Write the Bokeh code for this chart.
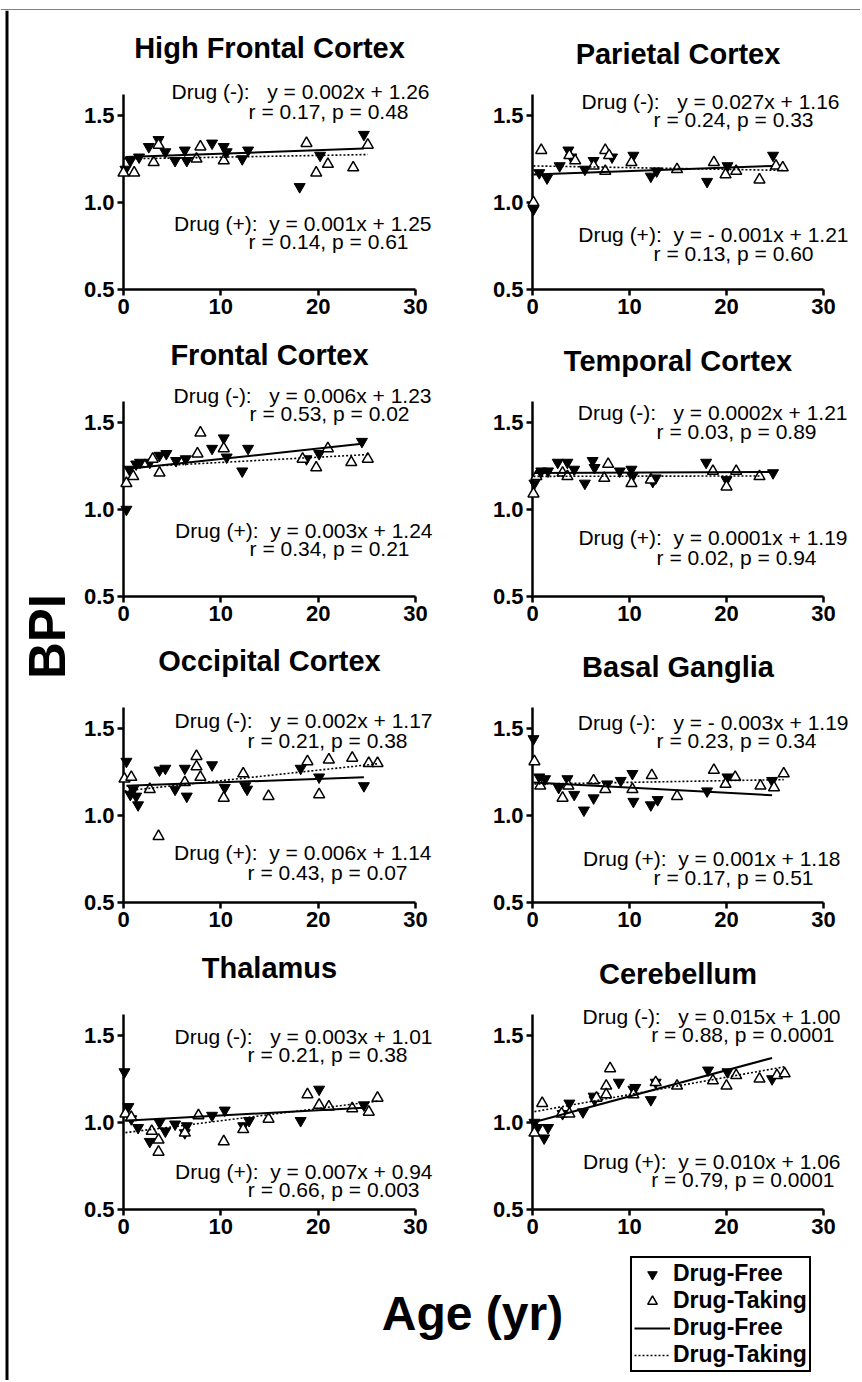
import math
from bokeh.plotting import figure
from bokeh.models import (Range1d, Label, Legend, LegendItem, LinearAxis, FixedTicker,
                          NumeralTickFormatter, Span)
from bokeh.layouts import row, column
from bokeh.embed import file_html
from bokeh.resources import INLINE
from bokeh.core.properties import value

# ---------------- data ----------------
regions = ["High Frontal Cortex", "Parietal Cortex", "Frontal Cortex", "Temporal Cortex",
           "Occipital Cortex", "Basal Ganglia", "Thalamus", "Cerebellum"]

hfc_free_age = [0.2, 0.7, 1.6, 2.6, 3.6, 4.3, 5.3, 6.3, 6.5, 9.1, 10.3, 10.6, 12.2, 12.8, 18.1, 20.2, 24.7]
hfc_free_bpi = [1.19, 1.24, 1.26, 1.32, 1.36, 1.29, 1.24, 1.30, 1.24, 1.34, 1.32, 1.29, 1.25, 1.30, 1.09, 1.27, 1.39]
hfc_taking_age = [0.0, 1.1, 3.1, 3.6, 7.5, 7.9, 10.3, 18.8, 19.8, 21.0, 23.6, 25.1]
hfc_taking_bpi = [1.17, 1.17, 1.23, 1.33, 1.25, 1.32, 1.24, 1.34, 1.17, 1.22, 1.20, 1.33]

par_free_age = [0.1, 0.7, 1.5, 2.8, 3.7, 4.0, 5.4, 6.3, 8.2, 10.4, 12.2, 12.8, 18.0, 20.1, 24.8]
par_free_bpi = [0.96, 1.17, 1.14, 1.21, 1.30, 1.26, 1.19, 1.24, 1.26, 1.27, 1.15, 1.18, 1.12, 1.21, 1.27]
par_taking_age = [0.1, 0.9, 3.8, 4.4, 6.3, 7.5, 7.5, 7.9, 10.2, 14.9, 18.7, 19.9, 21.0, 23.4, 25.1, 25.8]
par_taking_bpi = [1.00, 1.30, 1.27, 1.24, 1.21, 1.18, 1.30, 1.27, 1.23, 1.19, 1.23, 1.16, 1.18, 1.13, 1.21, 1.20]

fro_free_age = [0.3, 0.6, 1.3, 1.7, 2.7, 3.7, 4.4, 5.4, 6.4, 9.1, 10.3, 10.6, 12.2, 12.8, 18.8, 20.1, 24.5]
fro_free_bpi = [1.00, 1.23, 1.26, 1.27, 1.27, 1.31, 1.32, 1.28, 1.29, 1.35, 1.41, 1.30, 1.22, 1.35, 1.29, 1.32, 1.39]
fro_taking_age = [0.3, 1.0, 3.0, 3.7, 7.6, 7.9, 10.3, 18.4, 19.8, 21.0, 23.4, 25.1]
fro_taking_bpi = [1.15, 1.19, 1.29, 1.21, 1.32, 1.44, 1.35, 1.29, 1.24, 1.35, 1.27, 1.29]

tem_free_age = [0.2, 0.9, 1.6, 2.6, 3.6, 4.3, 5.4, 6.2, 6.4, 9.0, 10.2, 10.3, 12.4, 12.7, 17.9, 20.0, 24.8]
tem_free_bpi = [1.15, 1.22, 1.22, 1.27, 1.27, 1.23, 1.15, 1.28, 1.24, 1.22, 1.23, 1.19, 1.16, 1.18, 1.27, 1.17, 1.21]
tem_taking_age = [0.1, 0.4, 3.1, 3.6, 7.4, 7.8, 10.2, 12.2, 18.6, 20.0, 21.0, 23.4]
tem_taking_bpi = [1.09, 1.19, 1.21, 1.19, 1.18, 1.26, 1.15, 1.17, 1.22, 1.13, 1.22, 1.19]

occ_free_age = [0.3, 0.7, 1.0, 1.3, 1.5, 3.7, 4.3, 5.3, 6.3, 6.5, 9.1, 10.4, 12.5, 12.7, 18.2, 20.1, 24.7]
occ_free_bpi = [1.31, 1.12, 1.15, 1.11, 1.06, 1.26, 1.27, 1.15, 1.27, 1.11, 1.29, 1.16, 1.17, 1.15, 1.27, 1.22, 1.17]
occ_taking_age = [0.1, 0.8, 2.7, 3.6, 6.3, 7.5, 7.5, 7.9, 10.3, 12.3, 14.9, 18.9, 20.1, 21.1, 23.5, 25.2, 26.1]
occ_taking_bpi = [1.21, 1.22, 1.15, 0.88, 1.19, 1.34, 1.28, 1.22, 1.10, 1.24, 1.11, 1.31, 1.12, 1.32, 1.33, 1.30, 1.30]

bg_free_age = [0.1, 0.7, 1.3, 2.7, 3.6, 4.3, 5.3, 6.3, 7.7, 9.1, 10.3, 10.4, 12.2, 12.9, 18.0, 20.1, 24.7]
bg_free_bpi = [1.44, 1.22, 1.21, 1.16, 1.21, 1.12, 1.03, 1.10, 1.18, 1.20, 1.24, 1.08, 1.06, 1.09, 1.14, 1.22, 1.20]
bg_taking_age = [0.2, 0.8, 3.1, 3.7, 6.3, 7.5, 10.3, 12.3, 14.9, 18.7, 19.9, 20.9, 23.5, 24.9, 25.9]
bg_taking_bpi = [1.31, 1.17, 1.10, 1.17, 1.20, 1.15, 1.15, 1.23, 1.11, 1.26, 1.18, 1.22, 1.17, 1.16, 1.24]

tha_free_age = [0.1, 0.5, 0.8, 1.5, 2.7, 3.7, 4.3, 5.3, 6.3, 6.5, 9.1, 10.4, 12.3, 12.9, 18.2, 20.1, 24.7]
tha_free_bpi = [1.29, 1.09, 1.02, 0.97, 0.89, 1.00, 0.95, 0.99, 0.94, 0.98, 1.04, 1.07, 0.98, 1.01, 1.01, 1.19, 1.10]
tha_taking_age = [0.2, 0.8, 2.9, 3.6, 3.6, 6.3, 7.7, 10.3, 12.3, 14.9, 18.9, 20.1, 21.1, 23.5, 25.2, 26.1]
tha_taking_bpi = [1.05, 1.03, 0.95, 0.90, 0.83, 0.94, 1.04, 0.89, 0.96, 1.02, 1.16, 1.10, 1.09, 1.08, 1.06, 1.14]

cer_free_age = [0.2, 0.5, 1.2, 1.6, 3.1, 3.8, 5.2, 6.3, 6.4, 8.9, 10.4, 10.6, 12.2, 12.7, 18.1, 20.1, 24.7]
cer_free_bpi = [1.00, 0.97, 0.91, 0.97, 1.05, 1.11, 1.06, 1.15, 1.13, 1.23, 1.19, 1.20, 1.13, 1.23, 1.30, 1.29, 1.25]
cer_taking_age = [0.2, 1.0, 3.0, 3.8, 6.6, 7.6, 7.6, 8.0, 10.4, 12.7, 14.9, 18.6, 20.0, 21.0, 23.4, 25.2, 26.0]
cer_taking_bpi = [0.94, 1.11, 1.05, 1.05, 1.14, 1.21, 1.16, 1.31, 1.16, 1.23, 1.21, 1.24, 1.21, 1.27, 1.25, 1.27, 1.28]

# regression lines as drawn
free_slope = [0.002, 0.002, 0.006, 0.0002, 0.002, -0.003, 0.003, 0.015]
free_intercept = [1.26, 1.16, 1.23, 1.21, 1.17, 1.19, 1.01, 1.00]
taking_slope = [0.001, -0.001, 0.003, 0.0001, 0.006, 0.001, 0.007, 0.010]
taking_intercept = [1.25, 1.21, 1.24, 1.19, 1.14, 1.18, 0.94, 1.06]

free_eq = ["Drug (-):   y = 0.002x + 1.26", "Drug (-):   y = 0.027x + 1.16",
           "Drug (-):   y = 0.006x + 1.23", "Drug (-):   y = 0.0002x + 1.21",
           "Drug (-):   y = 0.002x + 1.17", "Drug (-):   y = - 0.003x + 1.19",
           "Drug (-):   y = 0.003x + 1.01", "Drug (-):   y = 0.015x + 1.00"]
free_stats = ["r = 0.17, p = 0.48", "r = 0.24, p = 0.33", "r = 0.53, p = 0.02",
              "r = 0.03, p = 0.89", "r = 0.21, p = 0.38", "r = 0.23, p = 0.34",
              "r = 0.21, p = 0.38", "r = 0.88, p = 0.0001"]
taking_eq = ["Drug (+):  y = 0.001x + 1.25", "Drug (+):  y = - 0.001x + 1.21",
             "Drug (+):  y = 0.003x + 1.24", "Drug (+):  y = 0.0001x + 1.19",
             "Drug (+):  y = 0.006x + 1.14", "Drug (+):  y = 0.001x + 1.18",
             "Drug (+):  y = 0.007x + 0.94", "Drug (+):  y = 0.010x + 1.06"]
taking_stats = ["r = 0.14, p = 0.61", "r = 0.13, p = 0.60", "r = 0.34, p = 0.21",
                "r = 0.02, p = 0.94", "r = 0.43, p = 0.07", "r = 0.17, p = 0.51",
                "r = 0.66, p = 0.003", "r = 0.79, p = 0.0001"]

x_ticks = [0, 10, 20, 30]
y_ticks = [0.5, 1.0, 1.5]
legend_labels = ["Drug-Free", "Drug-Taking", "Drug-Free", "Drug-Taking"]

series = [
    (hfc_free_age, hfc_free_bpi, hfc_taking_age, hfc_taking_bpi),
    (par_free_age, par_free_bpi, par_taking_age, par_taking_bpi),
    (fro_free_age, fro_free_bpi, fro_taking_age, fro_taking_bpi),
    (tem_free_age, tem_free_bpi, tem_taking_age, tem_taking_bpi),
    (occ_free_age, occ_free_bpi, occ_taking_age, occ_taking_bpi),
    (bg_free_age, bg_free_bpi, bg_taking_age, bg_taking_bpi),
    (tha_free_age, tha_free_bpi, tha_taking_age, tha_taking_bpi),
    (cer_free_age, cer_free_bpi, cer_taking_age, cer_taking_bpi),
]

# ---------------- style / layout constants ----------------
FONT = "Liberation Sans"
FRAME_H = 195
BOTTOM = 36
ROW_TOP = [84, 76, 75, 76]
BPI_W = 80
COL_W = [390, 390]
COL_BL = [42, 62]
COL_FW = [293, 291]
# (right edge x offset, y offset) of the 4 text lines, relative to frame left/bottom
TEXT_POS = [
    [(306, 198), (285, 178), (308, 66), (285, 48)],
    [(307, 188), (281, 170), (316, 55), (281, 36)],
    [(308, 201), (286, 183), (309, 66), (286, 48)],
    [(315, 184), (284, 165), (315, 59), (284, 39)],
    [(309, 182), (284, 162), (308, 50), (284, 30)],
    [(316, 180), (284, 162), (308, 44), (281, 25)],
    [(309, 173), (284, 155), (309, 38), (296, 20)],
    [(308, 193), (302, 175), (308, 48), (302, 30)],
]
TITLE_Y = [242, 236]


def keep_spaces(t):
    return t.replace("   ", "\u00a0\u00a0 ").replace("  ", "\u00a0 ")


def make_panel(i):
    col = i % 2
    r = i // 2
    top = ROW_TOP[r]
    bl, fw, w = COL_BL[col], COL_FW[col], COL_W[col]
    br = w - bl - fw
    p = figure(width=w, height=top + FRAME_H + BOTTOM,
               x_range=Range1d(0, 30), y_range=Range1d(0.5, 1.62),
               output_backend="svg", toolbar_location=None,
               min_border_left=bl, min_border_right=br,
               min_border_top=top, min_border_bottom=BOTTOM,
               x_axis_location=None, y_axis_location=None)
    p.outline_line_color = None
    p.grid.grid_line_color = None
    p.background_fill_color = "white"

    xa = LinearAxis(ticker=FixedTicker(ticks=x_ticks))
    ya = LinearAxis(ticker=FixedTicker(ticks=y_ticks), formatter=NumeralTickFormatter(format="0.0"))
    for ax in (xa, ya):
        ax.axis_line_width = 2.5
        ax.axis_line_color = "black"
        ax.major_tick_line_width = 2.5
        ax.major_tick_line_color = "black"
        ax.major_tick_out = 6
        ax.major_tick_in = 0
        ax.minor_tick_line_color = None
        ax.major_label_text_font = FONT
        ax.major_label_text_font_style = "bold"
        ax.major_label_text_font_size = "22px"
        ax.major_label_text_color = "black"
        ax.major_label_standoff = 3
    p.add_layout(xa, "below")
    p.add_layout(ya, "left")

    fx, fy, tx, ty = series[i]
    p.scatter(fx, fy, marker="inverted_triangle", size=11, fill_color="black",
              line_color="black", line_width=1, level="overlay")
    p.scatter(tx, ty, marker="triangle", size=11, fill_color="white",
              line_color="black", line_width=1.5, level="overlay")

    fx0, fx1 = min(fx), max(fx)
    p.line([fx0, fx1], [free_intercept[i] + free_slope[i] * fx0, free_intercept[i] + free_slope[i] * fx1],
           line_color="black", line_width=2, level="overlay")
    tx0, tx1 = min(tx), max(tx)
    p.line([tx0, tx1], [taking_intercept[i] + taking_slope[i] * tx0, taking_intercept[i] + taking_slope[i] * tx1],
           line_color="black", line_width=1.6, line_dash="2 2", level="overlay")

    p.text(x=[15], y=[0.5], text=[regions[i]], y_offset=-TITLE_Y[col],
           text_align="center", text_baseline="middle", text_font=value(FONT),
           text_font_style="bold", text_font_size=value("29px"), text_color="black",
           level="overlay")
    texts = [free_eq[i], free_stats[i], taking_eq[i], taking_stats[i]]
    for t, (dx, dy) in zip(texts, TEXT_POS[i]):
        p.text(x=[0], y=[0.5], text=[keep_spaces(t)], x_offset=dx, y_offset=-dy,
               text_align="right", text_baseline="middle", text_font=value(FONT),
               text_font_size=value("21px"), text_color="black", level="overlay")
    return p


panels = [make_panel(i) for i in range(8)]


def blank(w, h, xr=(0, 1), yr=(0, 1)):
    f = figure(width=w, height=h, x_range=Range1d(*xr), y_range=Range1d(*yr),
               output_backend="svg", toolbar_location=None,
               min_border=0, min_border_left=0, min_border_right=0,
               min_border_top=0, min_border_bottom=0,
               x_axis_location=None, y_axis_location=None)
    f.outline_line_color = None
    f.grid.grid_line_color = None
    return f


TOTAL_W = BPI_W + sum(COL_W)
top_bar = blank(TOTAL_W, 10, (0, TOTAL_W), (0, 10))
top_bar.add_layout(Span(location=1.5, dimension="width", line_color="black", line_width=3))

STRIP_H = 135
CONTENT_H = sum(ROW_TOP) + 4 * (FRAME_H + BOTTOM) + STRIP_H
bpi = blank(BPI_W, CONTENT_H, (0, BPI_W), (0, CONTENT_H))
bpi.add_layout(Span(location=6.5, dimension="height", line_color="black", line_width=3))
bpi.add_layout(Label(x=47, y=CONTENT_H - 626, text="BPI", angle=math.pi / 2, text_align="center",
                     text_baseline="middle", text_font=FONT, text_font_style="bold",
                     text_font_size="51px", text_color="black"))

strip = blank(sum(COL_W), STRIP_H)
strip.add_layout(Label(x=392, y=67, x_units="screen", y_units="screen", text="Age (yr)",
                       text_align="center", text_baseline="middle", text_font=FONT,
                       text_font_style="bold", text_font_size="48px", text_color="black"))
r_free = strip.scatter([-5], [-5], marker="inverted_triangle", size=11, fill_color="black", line_color="black")
r_take = strip.scatter([-5], [-5], marker="triangle", size=11, fill_color="white", line_color="black", line_width=1.5)
r_fl = strip.line([-5, -4], [-5, -5], line_color="black", line_width=2)
r_tl = strip.line([-5, -4], [-5, -5], line_color="black", line_width=1.6, line_dash="2 2")
legend = Legend(items=[LegendItem(label=legend_labels[0], renderers=[r_free]),
                       LegendItem(label=legend_labels[1], renderers=[r_take]),
                       LegendItem(label=legend_labels[2], renderers=[r_fl]),
                       LegendItem(label=legend_labels[3], renderers=[r_tl])],
                location=(550, 8), orientation="vertical",
                border_line_color="black", border_line_width=2.5, border_line_alpha=1,
                background_fill_color="white", background_fill_alpha=1,
                label_text_font=FONT, label_text_font_style="bold",
                label_text_font_size="23px", label_text_color="black",
                glyph_width=36, glyph_height=24, label_height=24, label_standoff=3,
                spacing=0, padding=2, margin=0)
strip.add_layout(legend)

grid_col = column(row(panels[0], panels[1]), row(panels[2], panels[3]),
                  row(panels[4], panels[5]), row(panels[6], panels[7]), strip)
root = column(top_bar, row(bpi, grid_col))

open("out.html", "w").write(file_html(root, INLINE))
